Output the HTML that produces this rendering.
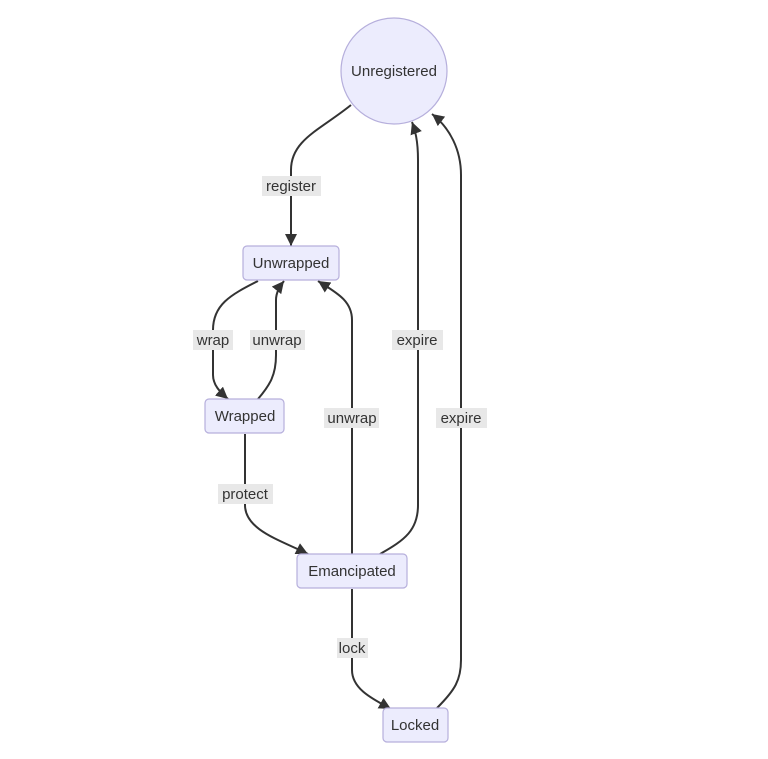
<!DOCTYPE html>
<html><head><meta charset="utf-8"><style>
html,body{margin:0;padding:0;background:#fff;}
svg{display:block;}
text{font-family:"Liberation Sans","DejaVu Sans",sans-serif;font-size:15px;fill:#333;}
.n{fill:#ececfd;stroke:#b6afdc;stroke-width:1.2;}
.e{fill:none;stroke:#333;stroke-width:2;}
.lb{fill:#e8e8e8;}
</style></head><body>
<svg width="768" height="759" viewBox="0 0 768 759">
<defs><marker id="a" markerWidth="13" markerHeight="13" refX="12" refY="6" orient="auto" markerUnits="userSpaceOnUse"><path d="M0,0 L12,6 L0,12 z" fill="#333"/></marker></defs>
<path class="e" marker-end="url(#a)" d="M351,105 C320,130 291,140 291,170 L291,246"/>
<path class="e" marker-end="url(#a)" d="M258,281 C230,295 213,305 213,330 L213,375 C213,385 220,392 228,399"/>
<path class="e" marker-end="url(#a)" d="M258,399 C270,385 276,375 276,355 L276,300 C276,292 280,286 284,281"/>
<path class="e" marker-end="url(#a)" d="M352,554 L352,320 C352,300 335,292 318,281"/>
<path class="e" marker-end="url(#a)" d="M380,554 C405,540 418,530 418,505 L418,160 C418,140 415,130 412,122"/>
<path class="e" marker-end="url(#a)" d="M437,708 C455,690 461,680 461,660 L461,175 C461,150 450,128 432,114"/>
<path class="e" marker-end="url(#a)" d="M245,434 L245,505 C245,530 280,540 308,554"/>
<path class="e" marker-end="url(#a)" d="M352,589 L352,670 C352,690 375,700 391,709"/>
<circle class="n" cx="394" cy="71" r="53"/>
<text x="394" y="76" text-anchor="middle">Unregistered</text>
<rect class="n" x="243" y="246" width="96" height="34" rx="4"/>
<text x="291" y="268" text-anchor="middle">Unwrapped</text>
<rect class="n" x="205" y="399" width="79" height="34" rx="4"/>
<text x="245" y="421" text-anchor="middle">Wrapped</text>
<rect class="n" x="297" y="554" width="110" height="34" rx="4"/>
<text x="352" y="576" text-anchor="middle">Emancipated</text>
<rect class="n" x="383" y="708" width="65" height="34" rx="4"/>
<text x="415" y="730" text-anchor="middle">Locked</text>
<rect class="lb" x="262" y="176" width="59" height="20"/><text x="291" y="191" text-anchor="middle">register</text>
<rect class="lb" x="193" y="330" width="40" height="20"/><text x="213" y="345" text-anchor="middle">wrap</text>
<rect class="lb" x="250" y="330" width="55" height="20"/><text x="277" y="345" text-anchor="middle">unwrap</text>
<rect class="lb" x="324" y="408" width="55" height="20"/><text x="352" y="423" text-anchor="middle">unwrap</text>
<rect class="lb" x="392" y="330" width="51" height="20"/><text x="417" y="345" text-anchor="middle">expire</text>
<rect class="lb" x="436" y="408" width="51" height="20"/><text x="461" y="423" text-anchor="middle">expire</text>
<rect class="lb" x="218" y="484" width="55" height="20"/><text x="245" y="499" text-anchor="middle">protect</text>
<rect class="lb" x="337" y="638" width="31" height="20"/><text x="352" y="653" text-anchor="middle">lock</text>
</svg>
</body></html>
